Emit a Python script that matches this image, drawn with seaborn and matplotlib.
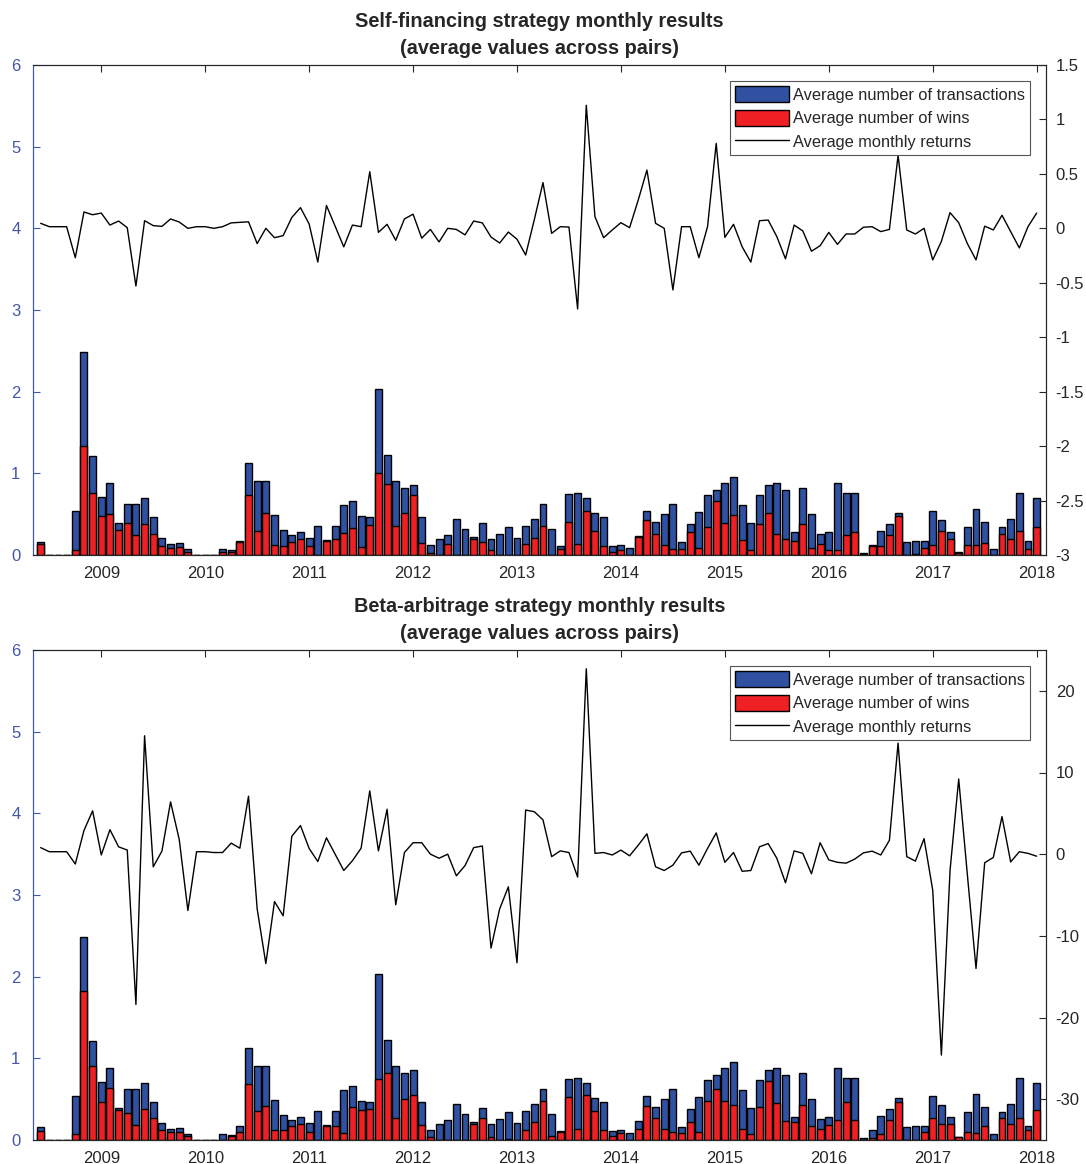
import numpy as np
import pandas as pd
import seaborn as sns
import matplotlib.pyplot as plt
from matplotlib.patches import Patch
from matplotlib.lines import Line2D

# monthly observations, Jun 2008 .. Jan 2018
months = pd.date_range("2008-06-01", "2018-01-01", freq="MS")
xpos = np.asarray(months.year + (months.month - 1) / 12.0)

# average number of transactions (same for both strategies)
trans = [0.16, 0, 0, 0, 0.54, 2.48, 1.21,
         0.71, 0.88, 0.39, 0.63, 0.62, 0.70, 0.46, 0.21, 0.13, 0.15, 0.07, 0,
         0, 0, 0.075, 0.06, 0.17, 1.13, 0.91, 0.91, 0.49, 0.31, 0.25, 0.28,
         0.21, 0.36, 0.18, 0.36, 0.61, 0.66, 0.48, 0.46, 2.03, 1.23, 0.91, 0.82,
         0.86, 0.46, 0.12, 0.19, 0.24, 0.44, 0.32, 0.22, 0.39, 0.19, 0.26, 0.34,
         0.21, 0.35, 0.44, 0.63, 0.32, 0.11, 0.75, 0.76, 0.70, 0.51, 0.46, 0.11,
         0.12, 0.09, 0.23, 0.54, 0.41, 0.50, 0.63, 0.16, 0.38, 0.53, 0.73, 0.80,
         0.88, 0.95, 0.61, 0.39, 0.73, 0.86, 0.88, 0.80, 0.28, 0.82, 0.50, 0.26,
         0.28, 0.88, 0.76, 0.76, 0.03, 0.12, 0.30, 0.38, 0.51, 0.16, 0.17, 0.17,
         0.54, 0.43, 0.28, 0.04, 0.34, 0.56, 0.41, 0.07, 0.34, 0.44, 0.76, 0.17,
         0.70]

wins_sf = [0.14, 0, 0, 0, 0.06, 1.34, 0.76,
           0.48, 0.50, 0.31, 0.39, 0.24, 0.38, 0.26, 0.11, 0.09, 0.10, 0.04, 0,
           0, 0, 0.04, 0.04, 0.16, 0.74, 0.29, 0.52, 0.12, 0.11, 0.16, 0.19,
           0.11, 0, 0.17, 0.19, 0.27, 0.33, 0.10, 0.37, 1.01, 0.87, 0.35, 0.52,
           0.74, 0.145, 0.03, 0, 0.13, 0, 0, 0.19, 0.16, 0.06, 0, 0,
           0, 0.13, 0.21, 0.36, 0, 0.07, 0.41, 0.13, 0.54, 0.30, 0.11, 0.04,
           0.06, 0, 0.22, 0.43, 0.26, 0.12, 0.07, 0.07, 0.28, 0.09, 0.34, 0.66,
           0.39, 0.49, 0.18, 0.06, 0.38, 0.52, 0.26, 0.19, 0.17, 0.38, 0.09, 0.13,
           0.06, 0.06, 0.24, 0.28, 0.01, 0.11, 0.11, 0.24, 0.48, 0, 0.01, 0.09,
           0.12, 0.29, 0.19, 0.03, 0.12, 0.12, 0.145, 0, 0.26, 0.20, 0.29, 0.07,
           0.34]

wins_ba = [0.11, 0, 0, 0, 0.07, 1.83, 0.91,
           0.47, 0.64, 0.37, 0.33, 0.18, 0.38, 0.27, 0.12, 0.10, 0.10, 0.05, 0,
           0, 0, 0, 0.05, 0.10, 0.68, 0.35, 0.42, 0.12, 0.12, 0.17, 0.20,
           0.10, 0, 0.17, 0.17, 0.09, 0.40, 0.37, 0.38, 0.75, 0.82, 0.27, 0.50,
           0.55, 0.18, 0.04, 0, 0, 0, 0, 0.20, 0.27, 0.04, 0, 0.01,
           0, 0.12, 0.22, 0.48, 0.05, 0.10, 0.53, 0.13, 0.55, 0.35, 0.12, 0.05,
           0.09, 0, 0.13, 0.42, 0.27, 0.13, 0.10, 0.09, 0.22, 0.10, 0.48, 0.62,
           0.48, 0.43, 0.13, 0.07, 0.40, 0.72, 0.45, 0.23, 0.22, 0.43, 0.17, 0.13,
           0.18, 0.25, 0.47, 0.25, 0, 0.03, 0.07, 0.25, 0.47, 0, 0, 0.10,
           0.27, 0.20, 0.20, 0.04, 0.10, 0.09, 0.17, 0, 0.27, 0.20, 0.27, 0.12,
           0.37]

ret_sf = [0.046, 0.015, 0.015, 0.015, -0.27, 0.15, 0.125,
          0.14, 0.03, 0.067, 0.006, -0.53, 0.07, 0.025, 0.018, 0.086, 0.058, 0.0, 0.015,
          0.015, 0.0, 0.015, 0.05, 0.055, 0.06, -0.14, 0.0, -0.086, -0.067, 0.10, 0.19,
          0.04, -0.31, 0.21, 0.02, -0.17, 0.03, 0.015, 0.52, -0.037, 0.037, -0.11, 0.086,
          0.13, -0.09, -0.01, -0.125, 0.0, -0.01, -0.06, 0.067, 0.05, -0.08, -0.135, -0.034,
          -0.10, -0.245, 0.08, 0.42, -0.046, 0.015, 0.012, -0.74, 1.13, 0.107, -0.086, -0.015,
          0.052, 0.006, 0.26, 0.535, 0.046, 0.0, -0.566, 0.015, 0.015, -0.27, 0.015, 0.78,
          -0.083, 0.037, -0.17, -0.31, 0.07, 0.076, -0.076, -0.28, 0.03, -0.024, -0.21, -0.16,
          -0.037, -0.147, -0.052, -0.052, 0.01, 0.015, -0.03, -0.01, 0.67, -0.015, -0.052, 0.0,
          -0.29, -0.12, 0.144, 0.052, -0.14, -0.29, 0.02, -0.015, 0.12, -0.03, -0.18, 0.015,
          0.14]

ret_ba = [0.8, 0.3, 0.3, 0.3, -1.2, 2.9, 5.3,
          -0.1, 3.0, 0.9, 0.5, -18.4, 14.5, -1.55, 0.37, 6.4, 1.8, -6.9, 0.3,
          0.3, 0.2, 0.2, 1.35, 0.73, 7.1, -6.7, -13.4, -5.8, -7.55, 2.2, 3.5,
          0.7, -0.9, 2.0, 0.0, -2.0, -0.8, 0.73, 7.75, 0.4, 5.5, -6.2, 0.2,
          1.4, 1.4, 0.0, -0.5, 0.0, -2.65, -1.4, 0.8, 1.0, -11.5, -6.7, -4.0,
          -13.3, 5.4, 5.2, 4.2, -0.3, 0.4, 0.2, -2.8, 22.7, 0.1, 0.2, -0.1,
          0.5, -0.2, 1.1, 2.5, -1.55, -2.0, -1.35, 0.16, 0.37, -1.35, 0.7, 2.6,
          -1.0, 0.2, -2.1, -2.0, 0.9, 1.3, -0.5, -3.5, 0.4, 0.1, -2.4, 1.4,
          -0.7, -1.0, -1.1, -0.6, 0.16, 0.37, -0.1, 1.7, 13.6, -0.3, -0.85, 1.9,
          -4.4, -24.6, -2.0, 9.2, -2.5, -14.0, -1.05, -0.4, 4.6, -0.95, 0.3, 0.1,
          -0.25]

years = list(range(2009, 2019))
BLUE = "#3051a2"
RED = "#ee2024"
AXBLUE = "#4257a8"
DARK = "#262626"

sns.set_style("white")
plt.rcParams["font.family"] = ["Liberation Sans", "DejaVu Sans"]

fig = plt.figure(figsize=(10.86, 11.64), dpi=100)
ax_top = fig.add_axes([33 / 1086, 1 - 555 / 1164, 1013 / 1086, 490 / 1164])
ax_bot = fig.add_axes([33 / 1086, 1 - 1140 / 1164, 1013 / 1086, 490 / 1164])


def panel(ax, wins, ret, title, rlim, rticks):
    sns.barplot(x=xpos, y=trans, native_scale=True, color=BLUE, saturation=1,
                edgecolor="black", linewidth=1, errorbar=None, width=0.8, ax=ax)
    sns.barplot(x=xpos, y=wins, native_scale=True, color=RED, saturation=1,
                edgecolor="black", linewidth=1, errorbar=None, width=0.8, ax=ax)
    ax.set_xlim(2008.343, 2018.09)
    ax.set_ylim(0, 6)
    ax.set_xticks(years)
    ax.set_xticklabels([str(y) for y in years])
    ax.set_yticks(range(0, 7))
    ax.set_xlabel("")
    ax.set_ylabel("")
    ax.tick_params(axis="x", direction="in", length=5, top=True, colors=DARK,
                   labelsize=12, pad=8)
    ax.tick_params(axis="y", direction="in", length=5, colors=AXBLUE,
                   labelsize=12, pad=9)
    ax.spines["left"].set_color(AXBLUE)
    for s in ["top", "bottom"]:
        ax.spines[s].set_color(DARK)
    ax.set_title(title, fontsize=14.3, fontweight="bold", pad=8, linespacing=1.55)

    ax2 = ax.twinx()
    sns.lineplot(x=xpos, y=ret, color="black", linewidth=1, ax=ax2)
    ax2.set_ylim(*rlim)
    ax2.set_yticks(rticks)
    ax2.set_yticklabels([f"{t:g}" for t in rticks])
    ax2.set_ylabel("")
    ax2.tick_params(axis="y", direction="in", length=5, colors=DARK,
                    labelsize=12, pad=7)
    ax2.spines["left"].set_color(AXBLUE)
    for s in ["right", "top", "bottom"]:
        ax2.spines[s].set_color(DARK)

    handles = [Patch(facecolor=BLUE, edgecolor="black"),
               Patch(facecolor=RED, edgecolor="black"),
               Line2D([0], [0], color="black", linewidth=1)]
    labels = ["Average number of transactions", "Average number of wins",
              "Average monthly returns"]
    leg = ax2.legend(handles, labels, loc="upper right", fontsize=11.8,
                     frameon=True, fancybox=False, framealpha=1,
                     handlelength=3.3, handleheight=1.1, handletextpad=0.25,
                     labelspacing=0.43, borderpad=0.3, borderaxespad=1.0)
    leg.get_frame().set_edgecolor("#555555")
    leg.get_frame().set_linewidth(0.8)


panel(ax_top, wins_sf, ret_sf,
      "Self-financing strategy monthly results\n(average values across pairs)",
      (-3, 1.5), [-3, -2.5, -2, -1.5, -1, -0.5, 0, 0.5, 1, 1.5])
panel(ax_bot, wins_ba, ret_ba,
      "Beta-arbitrage strategy monthly results\n(average values across pairs)",
      (-35, 25), [-30, -20, -10, 0, 10, 20])

fig.savefig("out.png", dpi=100)
